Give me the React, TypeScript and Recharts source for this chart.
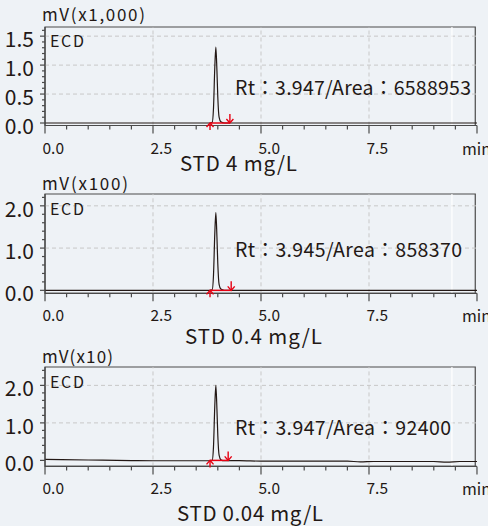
import React from 'react';
import { LineChart, Line, XAxis, YAxis, ReferenceArea, ReferenceLine, ReferenceDot } from 'recharts';

// retention time (min)
const TIME = [0, 1, 2, 2.5, 3, 3.5, 3.8, 3.87, 3.9, 3.93, 3.955, 3.98, 4.0, 4.03, 4.07, 4.15, 4.5, 5, 6, 7, 7.3, 7.6, 8, 9, 9.3, 9.6, 10];
// detector signal, in units of each panel's scale
const SIGNAL_4 = [0, 0, 0, 0, 0, 0, 0, 0.01, 0.25, 0.95, 1.31, 0.9, 0.45, 0.1, 0.02, 0, 0, 0, 0, 0, 0, 0, 0, 0, 0, 0, 0];
const SIGNAL_04 = [0, 0, 0, 0, 0, 0, 0, 0.01, 0.35, 1.33, 1.84, 1.26, 0.63, 0.14, 0.03, 0, 0, 0, 0, 0, 0, 0, 0, 0, 0, 0, 0];
const SIGNAL_004 = [0.025, 0.01, -0.005, -0.01, -0.01, -0.01, -0.01, 0, 0.36, 1.44, 2.0, 1.36, 0.67, 0.14, 0.02, -0.01, -0.005, -0.02, -0.02, -0.02, -0.04, -0.03, -0.03, -0.03, -0.045, -0.03, -0.03];

const SCALE_LABELS = ['mV(x1,000)', 'mV(x100)', 'mV(x10)'];
const SAMPLE_LABELS = ['STD 4 mg/L', 'STD 0.4 mg/L', 'STD 0.04 mg/L'];
const PEAK_LABELS = ['Rt：3.947/Area：6588953', 'Rt：3.945/Area：858370', 'Rt：3.947/Area：92400'];
const PEAK_START = [3.82, 3.82, 3.82];
const PEAK_END = [4.28, 4.31, 4.24];

const X_TICKS = [0, 0.5, 1, 1.5, 2, 2.5, 3, 3.5, 4, 4.5, 5, 5.5, 6, 6.5, 7, 7.5, 8, 8.5, 9, 9.5, 10];
const Y_TICKS_1 = [0, 0.1, 0.2, 0.3, 0.4, 0.5, 0.6, 0.7, 0.8, 0.9, 1.0, 1.1, 1.2, 1.3, 1.4, 1.5, 1.6];
const Y_TICKS_2 = [0, 0.2, 0.4, 0.6, 0.8, 1.0, 1.2, 1.4, 1.6, 1.8, 2.0, 2.2];
const Y_TICKS_3 = [0, 0.2, 0.4, 0.6, 0.8, 1.0, 1.2, 1.4, 1.6, 1.8, 2.0, 2.2, 2.4];

const FONT = '"Noto Sans CJK JP", "Noto Sans", sans-serif';
const INK = '#231815';
const AXIS = '#4a4a4a';
const RED = '#e60012';

const panels = [
  { key: 's4', values: SIGNAL_4, ticks: Y_TICKS_1, major: 0.5, domain: [-0.043, 1.658], top: 26.5, bottom: 125, grid: [0.5, 1.0, 1.5] },
  { key: 's04', values: SIGNAL_04, ticks: Y_TICKS_2, major: 1.0, domain: [-0.07, 2.28], top: 194, bottom: 293.3, grid: [1.0, 2.0] },
  { key: 's004', values: SIGNAL_004, ticks: Y_TICKS_3, major: 1.0, domain: [-0.16, 2.49], top: 367.3, bottom: 466.7, grid: [1.0, 2.0] },
];

const isMultiple = (v: number, step: number) => Math.abs(v / step - Math.round(v / step)) < 1e-6;

const XTick = (props: any) => {
  const { x, y, payload } = props;
  const major = isMultiple(payload.value, 2.5);
  return (
    <g>
      <line x1={x} x2={x} y1={y} y2={y + (major ? 8 : 4)} stroke={AXIS} strokeWidth={1.2} />
      {major && payload.value < 10 && (
        <text x={x - 2.5} y={y + 21} textAnchor="start" dominantBaseline="central" fontSize={15.5} fill={INK} fontFamily={FONT}>
          {payload.value.toFixed(1)}
        </text>
      )}
    </g>
  );
};

const makeYTick = (step: number) => (props: any) => {
  const { x, y, payload } = props;
  const major = isMultiple(payload.value, step);
  return (
    <g>
      <line x1={x - (major ? 5 : 3)} x2={x} y1={y} y2={y} stroke={AXIS} strokeWidth={1.2} />
      {major && (
        <text x={x - 11} y={y + 2} textAnchor="end" dominantBaseline="central" fontSize={21} fill={INK} fontFamily={FONT}>
          {payload.value.toFixed(1)}
        </text>
      )}
    </g>
  );
};

const StartMark = (props: any) => {
  const { cx, cy } = props;
  return (
    <g stroke={RED} strokeWidth={1.4} fill="none">
      <line x1={cx} x2={cx} y1={cy} y2={cy + 7} />
      <polyline points={`${cx - 3.5},${cy + 4} ${cx},${cy} ${cx + 3.5},${cy + 4}`} />
    </g>
  );
};

const EndMark = (props: any) => {
  const { cx, cy } = props;
  return (
    <g stroke={RED} strokeWidth={1.4} fill="none">
      <line x1={cx} x2={cx} y1={cy - 9} y2={cy} />
      <polyline points={`${cx - 3.5},${cy - 4} ${cx},${cy} ${cx + 3.5},${cy - 4}`} />
    </g>
  );
};

export default function App() {
  return (
    <div style={{ position: 'relative', width: 488, height: 526, background: '#eef2f6', overflow: 'hidden', fontFamily: FONT }}>
      <style>{'body{margin:0}'}</style>
      {panels.map((p, i) => {
        const rows = TIME.map((t, j) => ({ t, v: p.values[j] }));
        const h = p.bottom - p.top + 10 + 35;
        return (
          <div key={p.key} style={{ position: 'absolute', left: 0, top: p.top - 10 }}>
            <LineChart width={488} height={h} data={rows} margin={{ top: 10, right: 11, bottom: 0, left: 0 }}>
              <XAxis
                dataKey="t"
                type="number"
                domain={[0, 10]}
                ticks={X_TICKS}
                interval={0}
                allowDataOverflow
                height={35}
                tickSize={0}
                tickMargin={0}
                tickLine={false}
                tick={XTick}
                axisLine={{ stroke: AXIS, strokeWidth: 1.2 }}
              />
              <YAxis
                type="number"
                domain={p.domain}
                ticks={p.ticks}
                interval={0}
                allowDataOverflow
                width={45}
                tickSize={0}
                tickMargin={0}
                tickLine={false}
                tick={makeYTick(p.major)}
                axisLine={{ stroke: AXIS, strokeWidth: 1.2 }}
              />
              {p.grid.map((g) => (
                <ReferenceLine key={'h' + g} y={g} stroke="#c8c8c8" strokeDasharray="4 3" strokeWidth={1} />
              ))}
              {[2.5, 5, 7.5].map((g) => (
                <ReferenceLine key={'v' + g} x={g} stroke="#c8c8c8" strokeDasharray="4 3" strokeWidth={1} />
              ))}
              <ReferenceLine x={9.42} stroke="#ffffff" strokeWidth={1.2} />
              <ReferenceArea x1={0} x2={9.96} y1={p.domain[0]} y2={p.domain[1]} fill="none" stroke={AXIS} strokeWidth={1.2} ifOverflow="visible" />
              <Line type="monotone" dataKey="v" stroke={INK} strokeWidth={1.2} dot={false} isAnimationActive={false} />
              <ReferenceLine segment={[{ x: PEAK_START[i], y: 0 }, { x: PEAK_END[i], y: 0 }]} stroke={RED} strokeWidth={1.5} />
              <ReferenceDot x={PEAK_START[i]} y={0} shape={StartMark} />
              <ReferenceDot x={PEAK_END[i]} y={0} shape={EndMark} />
            </LineChart>
          </div>
        );
      })}
      <svg width={488} height={526} style={{ position: 'absolute', left: 0, top: 0, pointerEvents: 'none' }} fontFamily={FONT} fill={INK}>
        {[13.5, 182.5, 355].map((y, i) => (
          <text key={'u' + i} x={42} y={y} dominantBaseline="central" fontSize={17} textLength={[103, 86, 71][i]} lengthAdjust="spacing">
            {SCALE_LABELS[i]}
          </text>
        ))}
        {[40, 207.5, 380.5].map((y, i) => (
          <text key={'e' + i} x={50} y={y} dominantBaseline="central" fontSize={16} textLength={34} lengthAdjust="spacing">
            ECD
          </text>
        ))}
        {[86, 248.3, 426].map((y, i) => (
          <text key={'r' + i} x={235} y={y} dominantBaseline="central" fontSize={19.5} textLength={[236, 227, 216][i]} lengthAdjust="spacing">
            {PEAK_LABELS[i]}
          </text>
        ))}
        {[162, 334.5, 512].map((y, i) => (
          <text key={'s' + i} x={[180, 185, 177][i]} y={y} dominantBaseline="central" fontSize={20.5} textLength={[117, 137, 146][i]} lengthAdjust="spacing">
            {SAMPLE_LABELS[i]}
          </text>
        ))}
        {[147.5, 314.5, 488].map((y, i) => (
          <text key={'m' + i} x={462} y={y} dominantBaseline="central" fontSize={16}>
            min
          </text>
        ))}
      </svg>
    </div>
  );
}
